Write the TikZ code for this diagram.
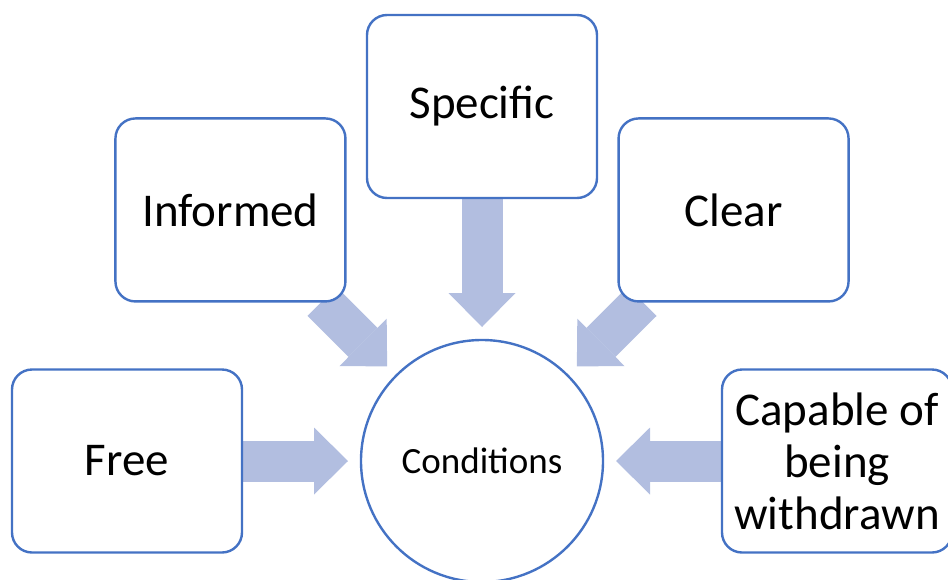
\documentclass[tikz,border=0pt]{standalone}
\usepackage{fontspec}
\setmainfont{Carlito}
\usetikzlibrary{arrows.meta, positioning, backgrounds}
\definecolor{boxblue}{RGB}{68,114,196}
\definecolor{arrowblue}{RGB}{178,190,224}
\tikzset{
  condbox/.style={
    rectangle, rounded corners=20pt,
    minimum width=230pt, minimum height=183pt,
    align=center, font=\fontsize{47}{52}\selectfont,
    draw=boxblue, line width=2.4pt, fill=white,
    inner sep=0pt, outer sep=0pt
  },
  condcircle/.style={
    circle, minimum size=242pt,
    font=\fontsize{37}{44}\selectfont,
    draw=boxblue, line width=2.4pt, fill=white,
    inner sep=0pt, outer sep=0pt
  },
  fatarrow/.style={
    draw=arrowblue, line width=41pt, shorten >=13pt,
    -{Triangle[width=67pt, length=34pt, line width=0pt]}
  },
}
\begin{document}
\begin{tikzpicture}[x=1pt, y=-1pt]
  \useasboundingbox (0,0) rectangle (948,579);
  \node[condcircle] (cond) at (482,461) {Conditions};
  \node[condbox, left=119pt of cond] (free) {Free};
  \node[condbox, above left=74pt and 51pt of cond] (informed) {Informed};
  \node[condbox, above=142pt of cond] (specific) {Specific};
  \node[condbox, above right=74pt and 51pt of cond] (clear) {Clear};
  \node[condbox, right=119pt of cond] (capable) {Capable of\\being\\withdrawn};
  \begin{scope}[on background layer]
    \draw[fatarrow] (free) -- (cond);
    \draw[fatarrow] (informed) -- (cond);
    \draw[fatarrow] (specific) -- (cond);
    \draw[fatarrow] (clear) -- (cond);
    \draw[fatarrow] (capable) -- (cond);
  \end{scope}
\end{tikzpicture}
\end{document}
